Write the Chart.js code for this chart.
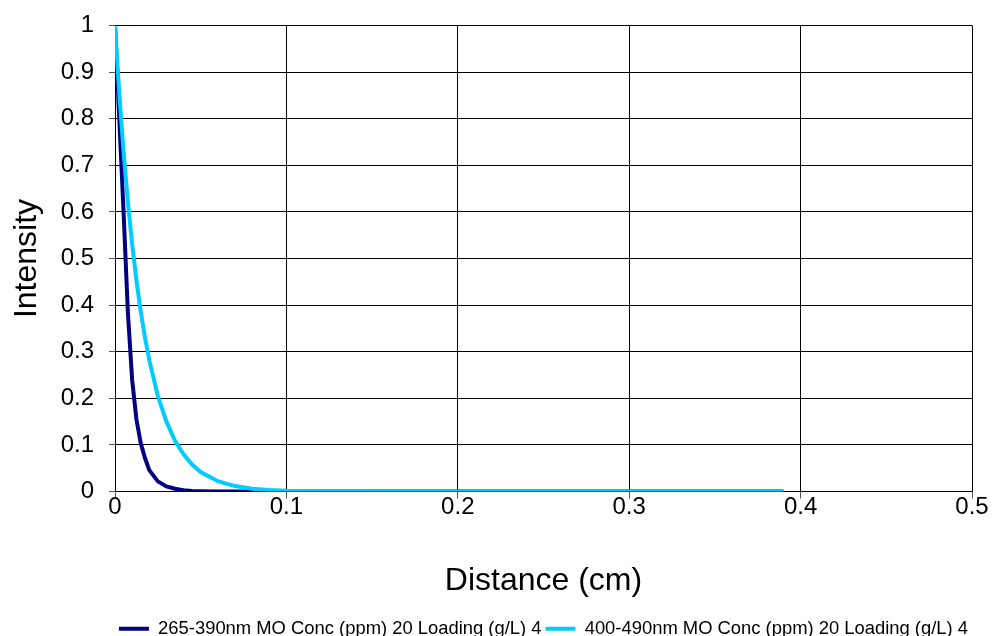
<!DOCTYPE html>
<html>
<head>
<meta charset="utf-8">
<script src="https://cdn.jsdelivr.net/npm/chart.js@4.4.1/dist/chart.umd.min.js"></script>
<style>
  html, body { margin: 0; padding: 0; background: #fff; overflow: hidden; }
  #wrap { width: 995px; height: 652px; margin-top: -4px; }
</style>
</head>
<body>
<div id="wrap"><canvas id="intensity_chart"></canvas></div>
<script>
// distance from the surface (cm)
const distance = [
  0, 0.0025, 0.005, 0.0075, 0.01, 0.0125, 0.015, 0.0175, 0.02, 0.025,
  0.03, 0.035, 0.04, 0.045, 0.05, 0.06, 0.07, 0.08, 0.09, 0.1,
  0.12, 0.15, 0.2, 0.25, 0.3, 0.35, 0.39,
];

// relative intensity, 265-390nm band
const intensityUV = [
  1, 0.8, 0.6, 0.385, 0.24, 0.155, 0.104, 0.072, 0.046, 0.022,
  0.011, 0.006, 0.003, 0.0015, 0.0008, 0.0002, 0.0001, 0, 0, 0,
  0, 0, 0, 0, 0, 0, 0,
];

// relative intensity, 400-490nm band
const intensityVis = [
  1, 0.854, 0.729, 0.622, 0.531, 0.453, 0.387, 0.33, 0.282, 0.205,
  0.15, 0.109, 0.08, 0.058, 0.042, 0.0224, 0.0119, 0.0063, 0.0034, 0.0018,
  0.0005, 0.0001, 0, 0, 0, 0, 0,
];

const seriesLabels = [
  "265-390nm MO Conc (ppm) 20 Loading (g/L) 4",
  "400-490nm MO Conc (ppm) 20 Loading (g/L) 4",
];

const xTitle = "Distance (cm)";
const yTitle = "Intensity";

function toPoints(ys) {
  return ys.map((y, i) => ({ x: distance[i], y: y }));
}

// 0, 0.1 ... 1 without trailing zeros
function tickText(value) {
  return String(Number(value.toFixed(2)));
}

const tickFont = { family: "'Liberation Sans', Arial, sans-serif", size: 24 };
const titleFont = { family: "'Liberation Sans', Arial, sans-serif", size: 32 };

var ctx = document.getElementById("intensity_chart").getContext("2d");

var myChartIntensity = new Chart(ctx, {
  type: "line",
  data: {
    datasets: [
      {
        label: seriesLabels[0],
        data: toPoints(intensityUV),
        borderColor: "#000080",
        backgroundColor: "#000080",
        borderWidth: 4,
        pointRadius: 0,
        order: 2,
      },
      {
        label: seriesLabels[1],
        data: toPoints(intensityVis),
        borderColor: "#00CCFF",
        backgroundColor: "#00CCFF",
        borderWidth: 4,
        pointRadius: 0,
        order: 1,
      },
    ],
  },
  options: {
    responsive: true,
    maintainAspectRatio: false,
    animation: false,
    layout: { padding: { top: 8, right: 23, left: 0, bottom: 0 } },
    plugins: {
      tooltip: { enabled: false },
      legend: {
        position: "bottom",
        align: "end",
        labels: {
          usePointStyle: true,
          pointStyle: "line",
          pointStyleWidth: 30,
          color: "#000",
          padding: 4,
          sort: (a, b) => a.datasetIndex - b.datasetIndex,
          font: { family: "'Liberation Sans', Arial, sans-serif", size: 18.4 },
        },
      },
    },
    scales: {
      x: {
        type: "linear",
        min: 0,
        max: 0.5,
        ticks: { stepSize: 0.1, color: "#000", font: tickFont, padding: -6, maxRotation: 0, callback: tickText },
        grid: { color: "#000", lineWidth: 1, tickLength: 7, tickColor: "#555" },
        border: { color: "#000", width: 1 },
        title: { display: true, text: xTitle, color: "#000", font: titleFont, padding: { top: 0, bottom: 15 } },
        afterFit: function (scale) {
          scale.height = 124;
        },
      },
      y: {
        min: 0,
        max: 1,
        ticks: { stepSize: 0.1, color: "#000", font: tickFont, padding: 15, callback: tickText },
        grid: { color: "#000", lineWidth: 1, tickLength: 6, tickColor: "#555" },
        border: { color: "#000", width: 1 },
        title: { display: true, text: yTitle, color: "#000", font: titleFont, padding: { top: 8, bottom: 0 } },
        afterFit: function (scale) {
          scale.width = 115;
        },
      },
    },
  },
});
</script>
</body>
</html>
